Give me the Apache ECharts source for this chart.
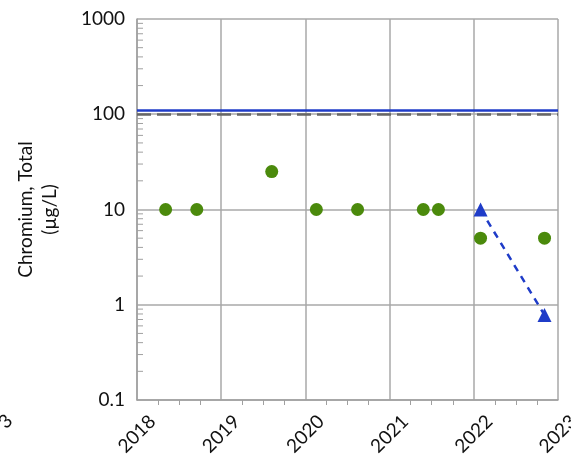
<!DOCTYPE html>
<html><head><meta charset="utf-8">
<script src="https://cdn.jsdelivr.net/npm/echarts@6/dist/echarts.min.js"></script>
<style>html,body{margin:0;padding:0;background:#fff}#c{width:571px;height:456px}</style>
</head><body><div id="c"></div>
<script>
const greenDates = [2018.34, 2018.71, 2019.60, 2020.13, 2020.62, 2021.40, 2021.58, 2022.08, 2022.84];
const greenValues = [10, 10, 25, 10, 10, 10, 10, 5, 5];
const blueDates = [2022.08, 2022.84];
const blueValues = [10, 0.78];
const limitSolid = 110;
const limitDashed = 100;
const yMin = 0.1, yMax = 1000;
const xMin = 2018, xMax = 2023;
const yName = 'Chromium, Total\n(µg/L)';

const minorY = [];
for (let e = -1; e < 3; e++) for (let m = 2; m <= 9; m++) minorY.push(+(m * Math.pow(10, e)).toPrecision(3));

const FONT = 'Lato';
const chart = echarts.init(document.getElementById('c'));
chart.setOption({
  animation: false,
  grid: { left: 137, right: 13, top: 19, bottom: 56, containLabel: false, outerBoundsMode: 'none' },
  xAxis: {
    type: 'value', min: xMin, max: xMax, interval: 1,
    axisLine: { show: true, lineStyle: { color: '#a0a0a0', width: 1.5 } },
    axisTick: { show: false },
    minorTick: { show: true, splitNumber: 4, length: 5, lineStyle: { color: '#a0a0a0', width: 1 } },
    splitLine: { show: true, lineStyle: { color: '#a8a8a8', width: 1.5 } },
    axisLabel: {
      rotate: 45, align: 'center', verticalAlign: 'middle', margin: 34,
      fontFamily: FONT, fontSize: 19, color: '#111',
      formatter: v => String(v)
    }
  },
  yAxis: {
    type: 'log', logBase: 10, min: yMin, max: yMax,
    name: yName, nameLocation: 'middle', nameRotate: 90, nameGap: 75,
    nameTextStyle: { fontFamily: FONT, fontSize: 19, color: '#111', lineHeight: 24, align: 'center' },
    axisLine: { show: true, lineStyle: { color: '#a0a0a0', width: 1.5 } },
    axisTick: { show: false },
    splitLine: { show: true, lineStyle: { color: '#a8a8a8', width: 1.5 } },
    axisLabel: { fontFamily: FONT, fontSize: 19, color: '#111', margin: 12,
      formatter: v => String(v) }
  },
  series: [
    {
      type: 'custom', silent: true, z: 1,
      data: [0],
      renderItem: (params, api) => {
        const children = minorY.map(v => {
          const p = api.coord([xMin, v]);
          return { type: 'line', shape: { x1: p[0], y1: p[1], x2: p[0] + 6, y2: p[1] },
                   style: { stroke: '#a0a0a0', lineWidth: 1 } };
        });
        return { type: 'group', children };
      }
    },
    {
      type: 'line', data: [], z: 3,
      markLine: {
        silent: true, symbol: 'none', label: { show: false },
        data: [
          { yAxis: limitDashed, lineStyle: { color: '#666666', width: 2.5, type: [14, 6] } },
          { yAxis: limitSolid, lineStyle: { color: '#1f3cc8', width: 2.5, type: 'solid' } }
        ]
      }
    },
    {
      type: 'scatter', z: 5,
      data: greenDates.map((d, i) => [d, greenValues[i]]),
      symbol: 'circle', symbolSize: 13,
      itemStyle: { color: '#4b8a0c', opacity: 1 }
    },
    {
      type: 'line', z: 6,
      data: blueDates.map((d, i) => [d, blueValues[i]]),
      symbol: 'triangle', symbolSize: 14,
      lineStyle: { color: '#1f3cc8', width: 2.5, type: [7, 6] },
      itemStyle: { color: '#1f3cc8', opacity: 1 }
    }
  ],
  graphic: [
    { type: 'text', left: -5, top: 411, rotation: Math.PI / 4,
      style: { text: '3', fontFamily: FONT, fontSize: 19, fill: '#111' } }
  ]
});
</script></body></html>
